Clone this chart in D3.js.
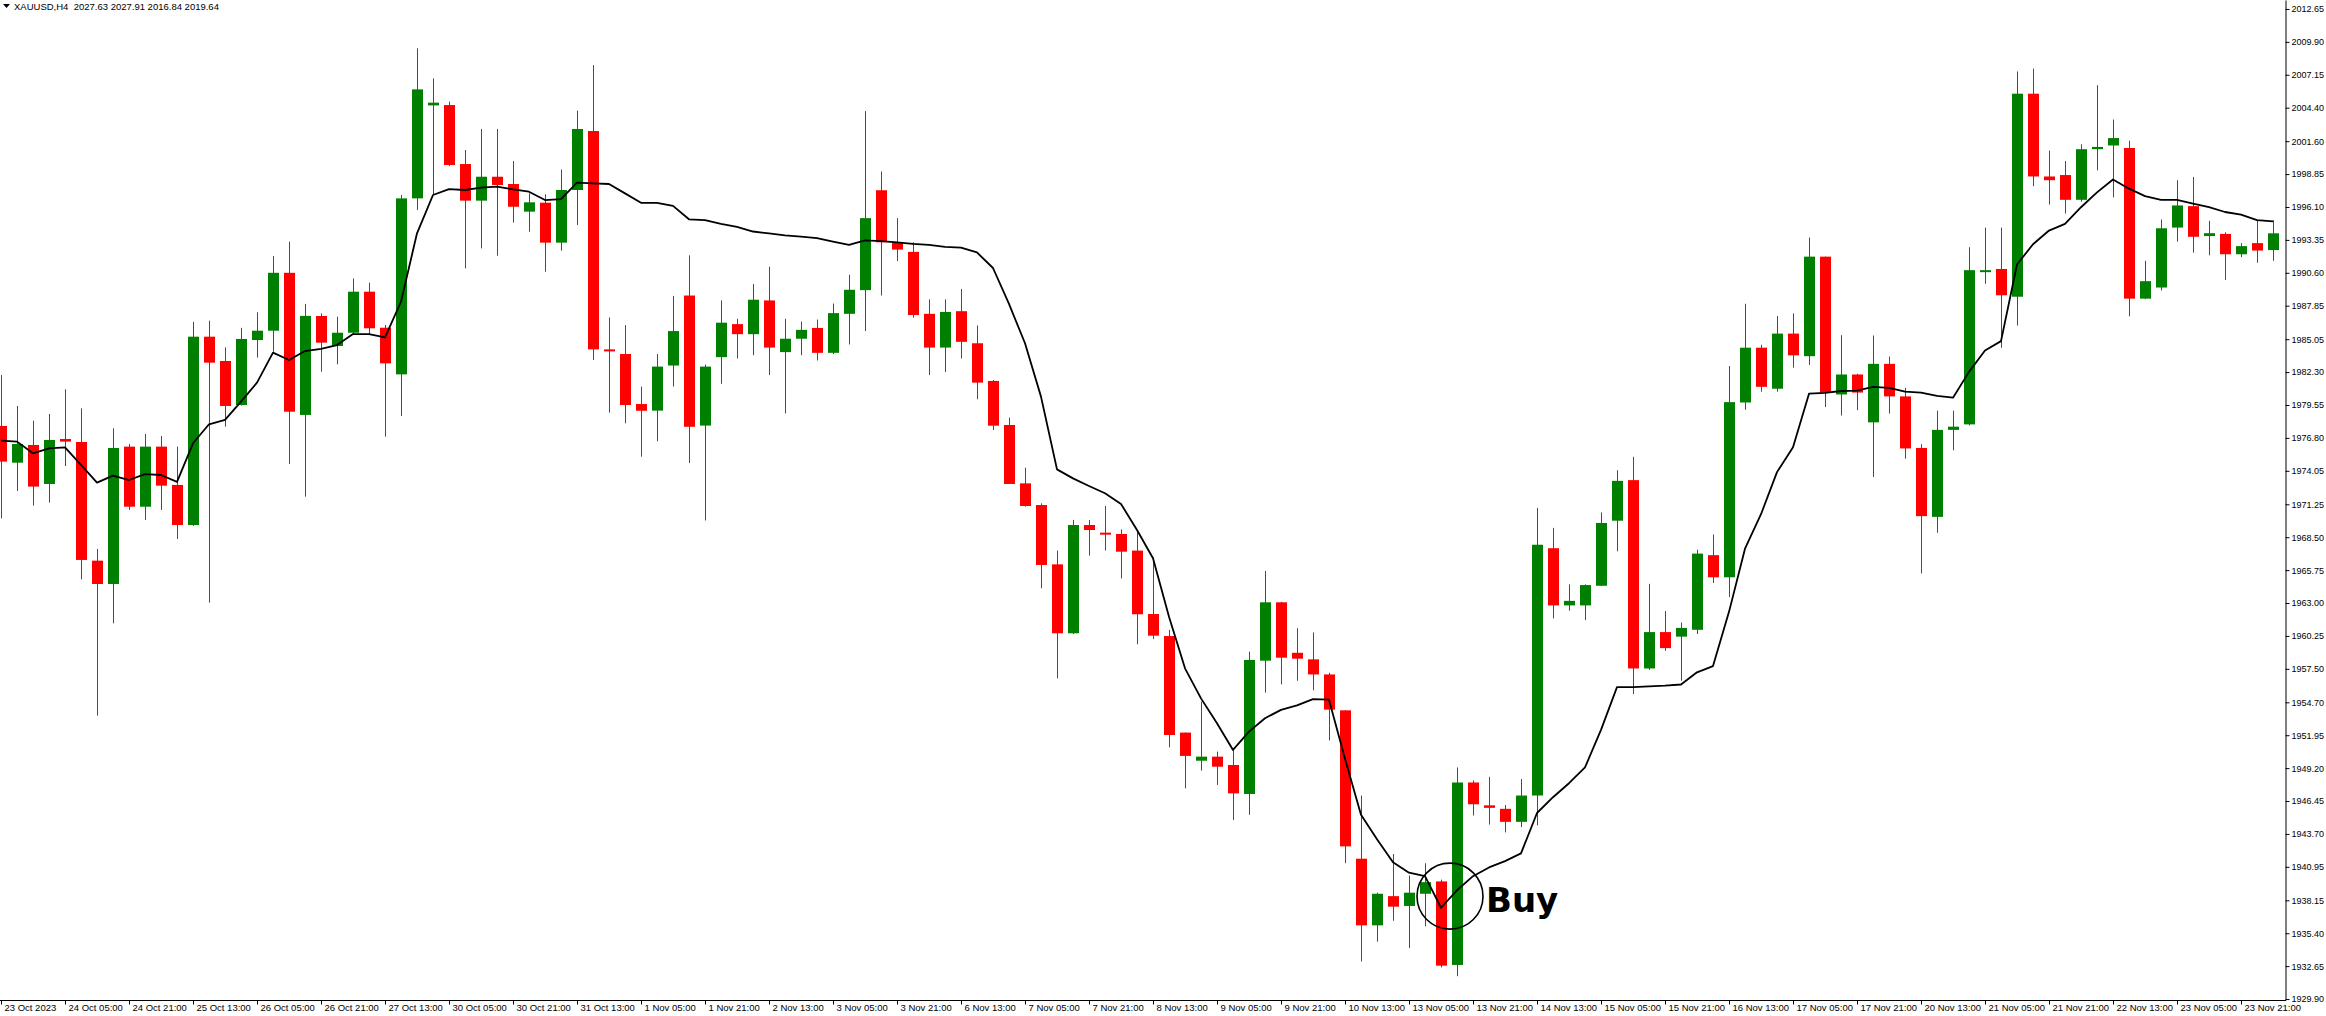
<!DOCTYPE html>
<html>
<head>
<meta charset="utf-8">
<script src="https://cdn.jsdelivr.net/npm/d3@7"></script>
<style>
body { margin: 0; background: #fff; }
svg { display: block; }
</style>
</head>
<body>
<div id="center"></div>
<script>
// XAUUSD H4, 143 bars
const openP = [1977.80,1974.73,1976.21,1972.95,1976.71,1976.46,1966.54,1964.59,1976.07,1971.05,1976.07,1972.87,1969.52,1985.26,1983.23,1979.55,1984.98,1985.76,1990.60,1978.72,
1986.99,1984.48,1985.59,1989.02,1986.01,1982.11,1996.82,2004.59,2004.62,1999.69,1996.63,1998.63,1998.02,1995.71,1996.46,1993.12,1997.52,2002.45,1984.20,1983.81,
1979.63,1979.08,1982.85,1988.70,1977.83,1983.55,1986.31,1985.47,1988.29,1983.97,1985.09,1985.99,1983.91,1987.17,1989.15,1997.50,1993.15,1992.35,1987.17,1984.35,
1987.39,1984.71,1981.56,1977.88,1973.00,1971.19,1966.23,1960.47,1969.52,1968.88,1968.77,1967.38,1962.08,1960.24,1952.17,1949.82,1950.16,1949.46,1947.04,1958.18,
1963.06,1958.84,1958.29,1957.03,1954.03,1941.63,1936.06,1938.50,1937.68,1938.70,1939.73,1932.75,1948.00,1946.09,1945.80,1944.71,1946.91,1967.58,1962.80,1962.80,
1964.44,1969.88,1973.27,1957.53,1960.57,1960.19,1960.76,1967.00,1965.15,1979.76,1984.34,1980.91,1985.52,1983.63,1991.95,1980.43,1982.10,1978.10,1982.99,1980.27,
1975.96,1970.20,1977.47,1977.93,1990.70,1990.92,1988.60,2005.57,1998.65,1998.77,1996.70,2000.93,2001.24,2001.03,1988.44,1989.37,1994.38,1996.17,1993.67,1993.85,
1992.15,1993.08,1992.50];
const highP = [1982.06,1979.47,1978.24,1978.80,1980.86,1979.27,1967.52,1977.60,1976.29,1977.13,1976.96,1976.07,1986.50,1986.60,1984.37,1986.00,1987.30,1992.00,1993.20,1988.00,
1987.21,1986.93,1990.13,1989.77,1986.23,1997.10,2009.36,2006.85,2004.90,2000.86,2002.62,2002.62,1999.94,1997.24,1997.16,1999.24,2004.15,2007.96,1986.87,1986.23,
1981.08,1983.81,1988.67,1992.06,1982.92,1988.29,1986.75,1989.66,1991.10,1986.75,1986.53,1986.69,1988.03,1990.43,2004.12,1999.07,1995.17,1993.15,1988.38,1988.38,
1989.25,1986.20,1981.64,1978.49,1974.31,1971.33,1967.38,1969.94,1969.94,1971.11,1969.16,1969.10,1966.82,1960.75,1952.17,1954.76,1950.58,1950.77,1958.94,1965.68,
1963.10,1960.90,1960.54,1957.17,1954.03,1946.91,1938.79,1942.02,1940.23,1941.25,1939.88,1949.26,1948.17,1948.47,1946.12,1948.29,1970.95,1969.28,1964.56,1964.56,
1970.57,1974.10,1975.22,1964.60,1962.33,1961.37,1967.45,1968.73,1982.80,1988.01,1984.59,1986.99,1987.21,1993.55,1991.95,1985.39,1982.16,1985.36,1983.60,1980.98,
1976.28,1979.07,1979.07,1992.74,1994.38,1994.38,2007.43,2007.67,2000.81,1999.94,2001.34,2006.28,2003.41,2001.64,1991.60,1995.06,1998.34,1998.61,1994.94,1993.98,
1993.08,1995.00,1995.00];
const lowP = [1970.08,1972.36,1971.14,1971.39,1974.45,1964.98,1953.59,1961.30,1970.78,1969.94,1970.78,1968.35,1969.44,1963.03,1977.74,1979.50,1983.51,1984.01,1974.62,1971.89,
1982.33,1982.95,1985.40,1985.40,1976.90,1978.63,1995.85,1997.10,1999.52,1990.97,1992.64,1992.03,1994.79,1994.03,1990.69,1992.45,1994.59,1983.31,1978.91,1978.02,
1975.23,1976.52,1981.09,1974.70,1969.90,1981.32,1983.43,1983.71,1982.05,1978.85,1983.71,1983.27,1983.81,1984.61,1985.73,1988.70,1991.58,1986.85,1982.05,1982.31,
1983.43,1980.03,1977.46,1972.95,1971.05,1964.23,1956.71,1960.41,1966.96,1967.38,1965.06,1959.55,1959.99,1950.94,1947.51,1948.99,1947.79,1944.86,1945.30,1955.51,
1956.20,1956.50,1955.71,1951.51,1941.25,1933.04,1934.69,1936.44,1934.16,1935.98,1932.55,1931.81,1945.24,1944.48,1943.83,1944.27,1944.42,1961.72,1962.36,1961.57,
1964.44,1967.32,1955.39,1957.41,1959.00,1956.51,1960.41,1964.67,1963.50,1979.15,1980.66,1980.66,1982.67,1982.90,1979.38,1978.67,1979.12,1973.53,1978.83,1975.06,
1965.47,1968.87,1975.77,1977.84,1989.68,1984.33,1986.19,1997.84,1996.30,1995.55,1996.54,1999.17,1996.91,1986.96,1988.40,1989.12,1993.20,1992.28,1992.06,1989.99,
1991.91,1991.44,1991.60];
const closeP = [1974.82,1976.29,1972.73,1976.63,1976.49,1966.60,1964.59,1975.96,1971.05,1976.07,1972.81,1969.52,1985.26,1983.09,1979.47,1985.07,1985.76,1990.60,1978.99,1987.00,
1984.76,1985.59,1989.02,1985.96,1983.03,1996.82,2005.93,2004.82,1999.61,1996.63,1998.63,1997.94,1996.12,1996.49,1993.12,1997.52,2002.62,1984.20,1984.03,1979.55,
1979.07,1982.76,1985.73,1977.73,1982.76,1986.43,1985.47,1988.35,1984.35,1985.09,1985.83,1983.91,1987.23,1989.18,1995.17,1993.15,1992.54,1987.07,1984.35,1987.33,
1984.83,1981.42,1977.82,1972.95,1971.11,1966.18,1960.47,1969.52,1969.10,1968.77,1967.29,1962.06,1960.27,1951.97,1950.22,1950.16,1949.32,1947.09,1958.24,1963.06,
1958.43,1958.35,1957.03,1954.09,1942.66,1936.06,1938.70,1937.62,1938.79,1939.67,1932.69,1948.00,1946.18,1945.88,1944.71,1946.91,1967.87,1962.80,1963.18,1964.50,
1969.69,1973.21,1957.53,1960.57,1959.23,1960.92,1967.13,1965.15,1979.79,1984.34,1981.07,1985.52,1983.70,1991.95,1980.59,1982.10,1980.59,1982.99,1980.27,1975.92,
1970.26,1977.47,1977.74,1990.82,1990.82,1988.72,2005.57,1998.65,1998.34,1996.70,2000.93,2001.12,2001.86,1988.44,1989.90,1994.32,1996.23,1993.61,1993.91,1992.15,
1992.83,1992.46,1993.90];
// moving average line drawn on the chart
const maLine = [1976.57,1976.49,1975.51,1975.93,1976.01,1974.54,1973.06,1973.65,1973.28,1973.78,1973.70,1973.12,1976.35,1977.94,1978.30,1979.83,1981.42,1983.93,1983.31,1984.06,
1984.24,1984.56,1985.48,1985.48,1985.20,1988.18,1993.90,1997.10,1997.60,1997.52,1997.71,1997.80,1997.57,1997.38,1996.68,1996.76,1998.13,1998.07,1998.02,1997.24,
1996.45,1996.44,1996.19,1995.07,1995.01,1994.69,1994.43,1994.05,1993.89,1993.73,1993.63,1993.50,1993.21,1992.93,1993.31,1993.24,1993.15,1993.02,1992.93,1992.77,
1992.70,1992.30,1991.00,1988.00,1984.71,1980.25,1974.17,1973.42,1972.78,1972.17,1971.28,1969.10,1966.74,1961.86,1957.54,1955.03,1952.95,1950.72,1952.25,1953.37,
1954.07,1954.45,1954.97,1954.92,1949.99,1945.30,1943.25,1941.34,1940.46,1940.17,1937.53,1938.99,1940.17,1940.90,1941.43,1942.07,1945.45,1946.77,1947.94,1949.26,
1952.40,1955.97,1955.97,1956.03,1956.09,1956.19,1957.21,1957.73,1962.26,1967.54,1970.42,1973.94,1976.02,1980.50,1980.56,1980.72,1980.75,1981.07,1980.98,1980.66,
1980.59,1980.31,1980.16,1982.32,1984.11,1984.89,1991.29,1992.99,1994.13,1994.69,1996.08,1997.32,1998.40,1997.63,1997.01,1996.70,1996.70,1996.39,1996.08,1995.68,
1995.46,1995.00,1994.90];
const priceTicks = [2012.65,2009.90,2007.15,2004.40,2001.60,1998.85,1996.10,1993.35,1990.60,1987.85,1985.05,1982.30,1979.55,1976.80,1974.05,1971.25,
1968.50,1965.75,1963.00,1960.25,1957.50,1954.70,1951.95,1949.20,1946.45,1943.70,1940.95,1938.15,1935.40,1932.65,1929.90];
const timeLabels = ["23 Oct 2023","24 Oct 05:00","24 Oct 21:00","25 Oct 13:00","26 Oct 05:00","26 Oct 21:00","27 Oct 13:00","30 Oct 05:00","30 Oct 21:00",
"31 Oct 13:00","1 Nov 05:00","1 Nov 21:00","2 Nov 13:00","3 Nov 05:00","3 Nov 21:00","6 Nov 13:00","7 Nov 05:00","7 Nov 21:00","8 Nov 13:00",
"9 Nov 05:00","9 Nov 21:00","10 Nov 13:00","13 Nov 05:00","13 Nov 21:00","14 Nov 13:00","15 Nov 05:00","15 Nov 21:00","16 Nov 13:00","17 Nov 05:00",
"17 Nov 21:00","20 Nov 13:00","21 Nov 05:00","21 Nov 21:00","22 Nov 13:00","23 Nov 05:00","23 Nov 21:00"];
const header = "XAUUSD,H4  2027.63 2027.91 2016.84 2019.64";
const buyBar = 90;
const buyPrice = 1938.5;

let width = 2326, height = 1016;
const svg = d3.select("#center").append("svg")
    .attr("width", width)
    .attr("height", height)
    .style("font-family", "'Liberation Sans', Arial, sans-serif");

let bars = d3.range(openP.length);
let xlinear = d3.scaleLinear().domain([0, bars.length - 1]).range([1, 2273]);
let ylinear = d3.scaleLinear().domain([1929.82, 2013.40]).range([1000, 0]);
let up = "#008000", down = "#ff0000";

// wicks
svg.append("g").selectAll("line")
    .data(bars)
    .enter()
    .append("line")
    .attr("x1", i => Math.round(xlinear(i)) + 0.5)
    .attr("x2", i => Math.round(xlinear(i)) + 0.5)
    .attr("y1", i => ylinear(highP[i]))
    .attr("y2", i => ylinear(lowP[i]))
    .attr("stroke", i => closeP[i] >= openP[i] ? up : down)
    .attr("stroke-width", 1);

// bodies
svg.append("g").selectAll("rect")
    .data(bars)
    .enter()
    .append("rect")
    .attr("x", i => Math.round(xlinear(i)) - 5)
    .attr("width", 11)
    .attr("y", i => ylinear(Math.max(openP[i], closeP[i])))
    .attr("height", i => Math.max(2, Math.abs(ylinear(openP[i]) - ylinear(closeP[i]))))
    .attr("fill", i => closeP[i] >= openP[i] ? up : down);

// MA
let line = d3.line().x((d, i) => xlinear(i)).y(d => ylinear(d));
svg.append("path")
    .attr("d", line(maLine))
    .attr("fill", "none")
    .attr("stroke", "#000")
    .attr("stroke-width", 1.8)
    .attr("stroke-linejoin", "round");

// price axis
let axisY = d3.axisRight(ylinear)
    .tickValues(priceTicks)
    .tickFormat(d3.format(".2f"))
    .tickSize(4)
    .tickSizeOuter(0);
let gy = svg.append("g")
    .attr("transform", "translate(2285.5,0)")
    .call(axisY);
gy.selectAll("text").attr("font-size", "9px").attr("fill", "#000").attr("x", 6);
gy.selectAll("line,path").attr("stroke", "#000");

// time axis
svg.append("line")
    .attr("x1", 0).attr("x2", 2286)
    .attr("y1", 1000.5).attr("y2", 1000.5)
    .attr("stroke", "#000");
let labelIdx = timeLabels.map((d, k) => k * 4);
let axisX = d3.axisBottom(xlinear)
    .tickValues(labelIdx)
    .tickFormat((d, k) => timeLabels[k])
    .tickSize(4)
    .tickSizeOuter(0);
let gx = svg.append("g")
    .attr("transform", "translate(0,1000.5)")
    .call(axisX);
gx.select(".domain").remove();
gx.selectAll("line").attr("stroke", "#000");
gx.selectAll("text")
    .attr("text-anchor", "start")
    .attr("x", 3)
    .attr("y", 4)
    .attr("font-size", "9.5px")
    .attr("fill", "#000");

// header
svg.append("path")
    .attr("d", "M3,4 L10,4 L6.5,8 Z")
    .attr("fill", "#000");
svg.append("text")
    .attr("x", 14).attr("y", 10)
    .attr("font-size", "9.5px")
    .attr("fill", "#000")
    .style("white-space", "pre")
    .text(header);

// buy signal
svg.append("circle")
    .attr("cx", (xlinear(buyBar) + xlinear(buyBar + 1)) / 2 + 1)
    .attr("cy", ylinear(buyPrice))
    .attr("r", 33)
    .attr("fill", "none")
    .attr("stroke", "#000")
    .attr("stroke-width", 1.6);
svg.append("text")
    .attr("x", xlinear(buyBar + 3) - 3)
    .attr("y", ylinear(buyPrice - 1.3))
    .attr("font-family", "'DejaVu Sans', Verdana, sans-serif")
    .attr("font-weight", "bold")
    .attr("font-size", "34px")
    .attr("fill", "#000")
    .text("Buy");
</script>
</body>
</html>
